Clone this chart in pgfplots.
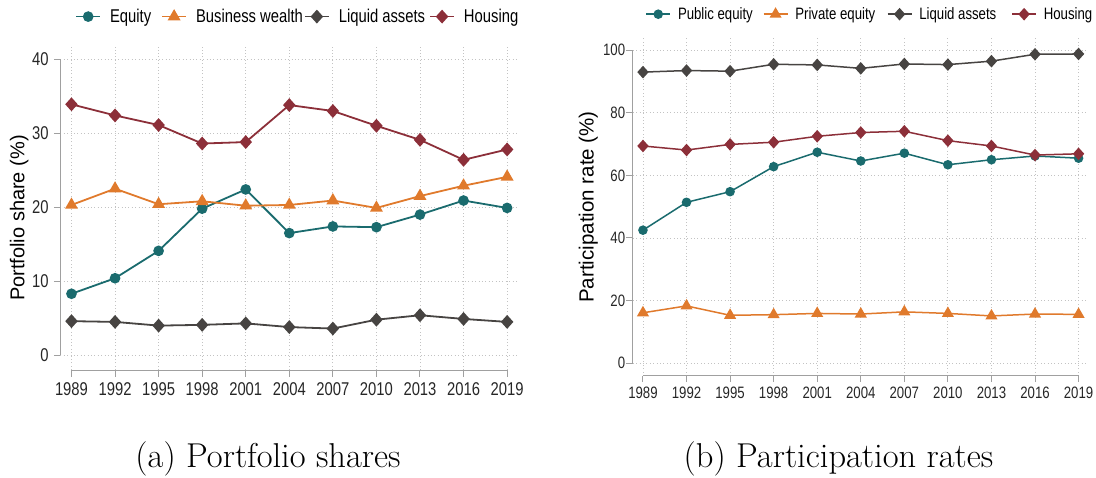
\documentclass[border=0pt]{standalone}
\usepackage{fontspec}
\usepackage{pgfplots}
\pgfplotsset{compat=1.18}
\newfontfamily\narrowfont[FakeStretch=0.8]{Liberation Sans}
\newfontfamily\sansfont{Liberation Sans}
\definecolor{cteal}{RGB}{26,107,110}
\definecolor{corange}{RGB}{224,122,44}
\definecolor{cdark}{RGB}{71,68,66}
\definecolor{cmaroon}{RGB}{140,47,57}
\definecolor{caxis}{RGB}{160,160,160}
\definecolor{cgrid}{RGB}{195,195,195}

\pgfplotstableread{
year equity business liquid housing
1989 8.3 20.3 4.6 33.9
1992 10.4 22.5 4.5 32.4
1995 14.1 20.4 4.0 31.1
1998 19.8 20.8 4.1 28.6
2001 22.4 20.2 4.3 28.8
2004 16.5 20.3 3.8 33.8
2007 17.4 20.9 3.6 33.0
2010 17.3 19.9 4.8 31.0
2013 19.0 21.5 5.4 29.1
2016 20.9 22.9 4.9 26.4
2019 19.9 24.1 4.5 27.8
}\shares

\pgfplotstableread{
year public private liquid housing
1989 42.5 16.1 93.0 69.4
1992 51.4 18.3 93.5 68.1
1995 54.8 15.3 93.3 69.9
1998 62.8 15.5 95.5 70.6
2001 67.4 15.9 95.3 72.5
2004 64.6 15.7 94.2 73.7
2007 67.1 16.4 95.6 74.1
2010 63.4 15.9 95.4 71.1
2013 65.0 15.1 96.5 69.4
2016 66.2 15.7 98.7 66.5
2019 65.5 15.6 98.8 66.9
}\rates

\pgfplotsset{
  stataaxis/.style={
    scale only axis,
    anchor=south west,
    axis line style={draw=none},
    xtick={1989,1992,...,2019},
    xtick pos=bottom, ytick pos=left,
    tick align=outside,
    major tick length=6.5pt,
    tick style={caxis, line width=1pt},
    grid=major,
    major grid style={cgrid, line width=0.8pt, dash pattern=on 0.8pt off 2.6pt},
    /pgf/number format/1000 sep={},
    /pgf/number format/assume math mode=true,
    clip=false,
    legend cell align=left,
    legend columns=4,
    legend image code/.code={\draw[mark repeat=2,mark phase=2] plot coordinates {(0pt,0pt) (12pt,0pt) (24pt,0pt)};},
  },
}

\begin{document}
\begin{tikzpicture}[x=1pt,y=1pt]
\path[use as bounding box] (0,0) rectangle (1096,-477);

% ---------------- Left panel ----------------
\begin{axis}[stataaxis,
  at={(60.3pt,-370pt)},
  width=458pt, height=323.4pt,
  xmin=1988.23, xmax=2019.77, ymin=-2, ymax=41.7,
  ytick={0,10,20,30,40},
  every axis plot/.append style={line width=1.8pt},
  ticklabel style={font=\narrowfont\fontsize{18.5}{18.5}\selectfont, text=black!85},
  xticklabel style={inner sep=0pt, yshift=-6pt},
  yticklabel style={inner sep=0pt, xshift=-5pt},
  ylabel={Portfolio share (\%)},
  ylabel style={font=\sansfont\fontsize{20}{20}\selectfont, at={(axis description cs:-0.0786,0.47)}, anchor=base},
  legend style={draw=none, fill=none, inner sep=0pt, outer sep=0pt,
    at={(axis description cs:0,1)}, anchor=west, xshift=15pt, yshift=30pt,
    font=\narrowfont\fontsize{18.5}{18.5}\selectfont,
    nodes={inner sep=0pt},
    column sep=9pt,
    /tikz/column 2/.style={column sep=10pt},
    /tikz/column 4/.style={column sep=1pt},
    /tikz/column 6/.style={column sep=4pt}},
]
\addplot[cteal, mark=*, mark size=4.4pt] table[x=year,y=equity] {\shares};
\addlegendentry{Equity}
\addplot[corange, mark=triangle*, mark size=5.7pt] table[x=year,y=business] {\shares};
\addlegendentry{Business wealth}
\addplot[cdark, mark=diamond*, mark size=5.6pt, mark options={xscale=1.2}] table[x=year,y=liquid] {\shares};
\addlegendentry{Liquid assets}
\addplot[cmaroon, mark=diamond*, mark size=5.6pt, mark options={xscale=1.2}] table[x=year,y=housing] {\shares};
\addlegendentry{Housing}
\draw[caxis, line width=1pt] (axis cs:1988.23,0) -- (axis cs:1988.23,40);
\draw[caxis, line width=1pt] (axis cs:1989,-2) -- (axis cs:2019,-2);
\end{axis}

% ---------------- Right panel ----------------
\begin{axis}[stataaxis,
  at={(632.8pt,-375.7pt)},
  width=453.75pt, height=338.8pt,
  xmin=1988.3, xmax=2019.55, ymin=-4, ymax=104.25,
  ytick={0,20,40,60,80,100},
  every axis plot/.append style={line width=1.5pt},
  ticklabel style={font=\narrowfont\fontsize{16.5}{16.5}\selectfont, text=black!85},
  xticklabel style={inner sep=0pt, yshift=-5pt},
  yticklabel style={inner sep=0pt, xshift=-1pt},
  ylabel={Participation rate (\%)},
  ylabel style={font=\sansfont\fontsize{20.5}{20.5}\selectfont, at={(axis description cs:-0.0864,0.498)}, anchor=base},
  legend style={draw=none, fill=none, inner sep=0pt, outer sep=0pt,
    at={(axis description cs:0,1)}, anchor=west, xshift=12.7pt, yshift=22.7pt,
    font=\narrowfont\fontsize{16.5}{16.5}\selectfont,
    nodes={inner sep=0pt},
    column sep=7pt,
    /tikz/column 2/.style={column sep=10pt},
    /tikz/column 4/.style={column sep=11.5pt},
    /tikz/column 6/.style={column sep=15pt}},
]
\addplot[cteal, mark=*, mark size=4pt] table[x=year,y=public] {\rates};
\addlegendentry{Public equity}
\addplot[corange, mark=triangle*, mark size=5.5pt] table[x=year,y=private] {\rates};
\addlegendentry{Private equity}
\addplot[cdark, mark=diamond*, mark size=5.2pt, mark options={xscale=1.2}] table[x=year,y=liquid] {\rates};
\addlegendentry{Liquid assets}
\addplot[cmaroon, mark=diamond*, mark size=5.2pt, mark options={xscale=1.2}] table[x=year,y=housing] {\rates};
\addlegendentry{Housing}
\draw[caxis, line width=1pt] (axis cs:1988.3,0) -- (axis cs:1988.3,100);
\draw[caxis, line width=1pt] (axis cs:1989,-4) -- (axis cs:2019,-4);
\end{axis}

\node[anchor=base, font=\fontsize{34.5}{34.5}\selectfont] at (268,-467) {(a) Portfolio shares};
\node[anchor=base, font=\fontsize{34.5}{34.5}\selectfont] at (838.5,-467) {(b) Participation rates};
\end{tikzpicture}
\end{document}
